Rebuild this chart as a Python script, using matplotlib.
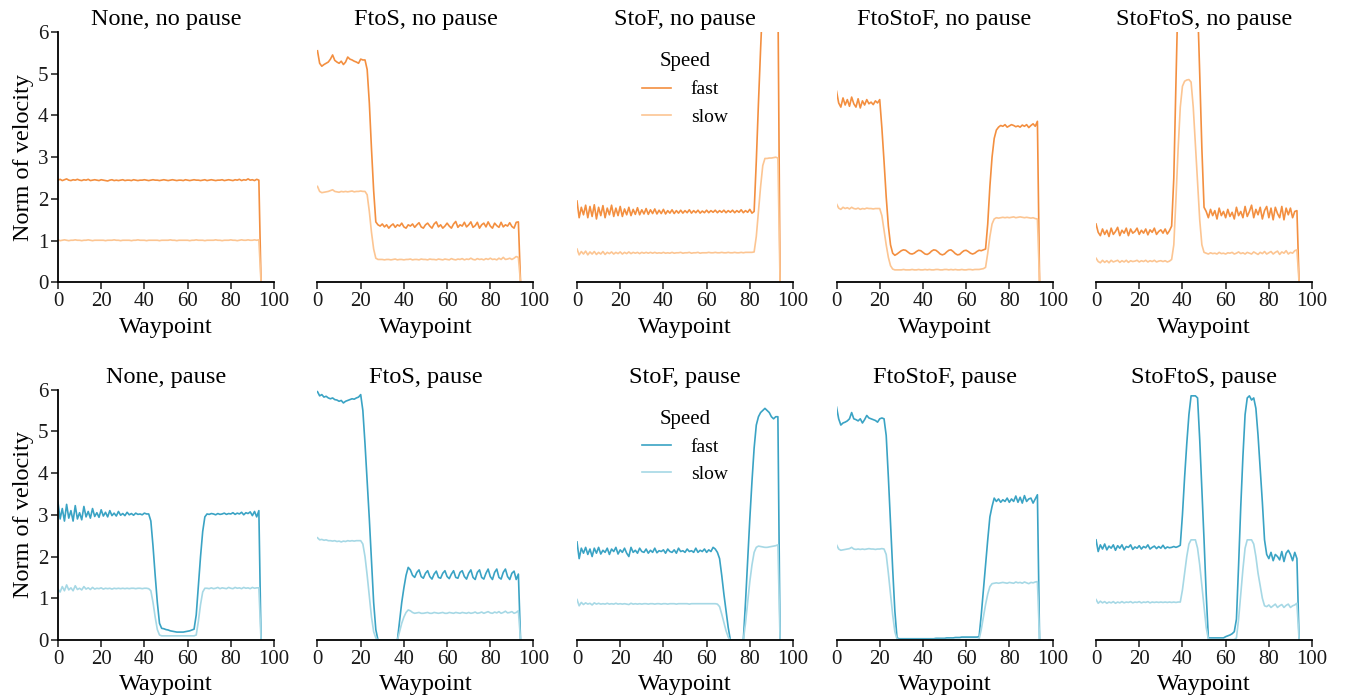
import matplotlib
matplotlib.use("Agg")
import matplotlib.pyplot as plt
import numpy as np

plt.rcParams['font.family'] = ['Liberation Serif', 'DejaVu Serif']

waypoints = list(range(95))
conditions = ["None", "FtoS", "StoF", "FtoStoF", "StoFtoS"]
pause_labels = ["no pause", "pause"]
speeds = ["fast", "slow"]

# ---------------- no pause ----------------
none_nopause_fast = [
    2.45,2.47,2.44,2.46,2.48,2.45,2.44,2.46,2.45,2.47,
    2.45,2.44,2.46,2.45,2.47,2.44,2.45,2.46,2.45,2.44,
    2.46,2.45,2.44,2.43,2.45,2.46,2.44,2.45,2.44,2.45,
    2.46,2.44,2.45,2.45,2.44,2.46,2.45,2.44,2.45,2.45,
    2.46,2.45,2.44,2.45,2.46,2.45,2.45,2.44,2.45,2.46,
    2.45,2.44,2.45,2.46,2.45,2.44,2.45,2.45,2.44,2.46,
    2.45,2.44,2.45,2.46,2.45,2.45,2.44,2.45,2.46,2.44,
    2.45,2.46,2.45,2.44,2.45,2.45,2.46,2.44,2.45,2.46,
    2.45,2.44,2.46,2.45,2.47,2.44,2.46,2.45,2.48,2.45,
    2.46,2.44,2.47,2.45,0.00]
none_nopause_slow = [
    1.02,1.00,1.01,1.02,1.01,1.00,1.01,1.01,1.02,1.01,
    1.01,1.00,1.01,1.01,1.02,1.01,1.00,1.01,1.01,1.01,
    1.01,1.01,1.00,1.01,1.01,1.01,1.02,1.01,1.01,1.00,
    1.01,1.01,1.01,1.01,1.00,1.01,1.01,1.02,1.01,1.01,
    1.01,1.00,1.01,1.01,1.01,1.01,1.01,1.00,1.01,1.01,
    1.01,1.01,1.02,1.01,1.01,1.00,1.01,1.01,1.01,1.01,
    1.01,1.00,1.01,1.01,1.02,1.01,1.01,1.01,1.00,1.01,
    1.01,1.01,1.01,1.02,1.01,1.01,1.00,1.01,1.01,1.01,
    1.02,1.01,1.01,1.00,1.01,1.02,1.01,1.01,1.02,1.01,
    1.01,1.02,1.01,1.02,0.00]

ftos_nopause_fast = [
    5.55,5.25,5.18,5.22,5.25,5.28,5.35,5.45,5.32,5.28,
    5.25,5.30,5.22,5.28,5.40,5.35,5.33,5.30,5.28,5.25,
    5.35,5.33,5.33,5.10,4.30,3.20,2.20,1.45,1.38,1.35,
    1.40,1.33,1.38,1.30,1.36,1.40,1.32,1.38,1.35,1.42,
    1.33,1.30,1.38,1.35,1.40,1.32,1.38,1.43,1.33,1.30,
    1.38,1.42,1.35,1.30,1.40,1.45,1.33,1.38,1.30,1.35,
    1.42,1.35,1.30,1.40,1.46,1.32,1.38,1.35,1.44,1.33,
    1.38,1.45,1.32,1.36,1.44,1.30,1.38,1.42,1.33,1.45,
    1.35,1.30,1.42,1.36,1.32,1.44,1.33,1.38,1.35,1.43,
    1.34,1.30,1.44,1.45,0.00]
ftos_nopause_slow = [
    2.30,2.18,2.15,2.16,2.17,2.18,2.20,2.22,2.18,2.17,
    2.16,2.18,2.17,2.18,2.17,2.18,2.19,2.17,2.18,2.18,
    2.19,2.18,2.18,2.10,1.70,1.20,0.80,0.58,0.55,0.55,
    0.55,0.54,0.55,0.55,0.54,0.55,0.56,0.54,0.55,0.55,
    0.54,0.55,0.55,0.56,0.54,0.55,0.55,0.54,0.56,0.55,
    0.55,0.54,0.56,0.55,0.55,0.54,0.56,0.55,0.54,0.56,
    0.55,0.54,0.57,0.55,0.54,0.56,0.55,0.57,0.54,0.56,
    0.55,0.58,0.55,0.54,0.57,0.55,0.56,0.54,0.57,0.55,
    0.58,0.55,0.56,0.54,0.58,0.55,0.60,0.55,0.56,0.58,
    0.55,0.58,0.62,0.60,0.00]

stof_nopause_fast = [
    1.95,1.55,1.80,1.62,1.85,1.55,1.82,1.58,1.86,1.52,
    1.80,1.60,1.84,1.55,1.78,1.62,1.85,1.58,1.78,1.60,
    1.82,1.58,1.76,1.62,1.80,1.60,1.75,1.63,1.79,1.62,
    1.74,1.64,1.77,1.63,1.74,1.65,1.76,1.64,1.73,1.65,
    1.75,1.64,1.72,1.66,1.74,1.65,1.72,1.66,1.73,1.66,
    1.72,1.67,1.74,1.66,1.72,1.67,1.73,1.66,1.71,1.67,
    1.73,1.67,1.72,1.68,1.73,1.67,1.72,1.68,1.73,1.67,
    1.72,1.68,1.73,1.67,1.72,1.68,1.74,1.67,1.72,1.68,
    1.75,1.66,1.70,2.90,4.30,5.60,6.80,7.00,7.00,7.00,
    7.00,7.00,7.00,7.00,0.00]
stof_nopause_slow = [
    0.80,0.66,0.74,0.68,0.75,0.66,0.73,0.68,0.74,0.67,
    0.72,0.68,0.74,0.67,0.72,0.69,0.73,0.68,0.72,0.69,
    0.73,0.68,0.72,0.69,0.73,0.69,0.72,0.70,0.72,0.69,
    0.72,0.70,0.72,0.70,0.72,0.70,0.72,0.70,0.71,0.70,
    0.72,0.70,0.71,0.70,0.72,0.70,0.71,0.71,0.72,0.70,
    0.71,0.71,0.72,0.70,0.71,0.71,0.72,0.70,0.71,0.71,
    0.71,0.72,0.71,0.71,0.72,0.71,0.71,0.72,0.71,0.71,
    0.72,0.71,0.71,0.72,0.71,0.71,0.72,0.71,0.72,0.72,
    0.72,0.72,0.73,1.10,1.70,2.30,2.80,2.97,2.97,2.98,
    2.98,2.99,3.00,2.98,0.00]

ftostof_nopause_fast = [
    4.58,4.30,4.20,4.42,4.25,4.38,4.22,4.44,4.28,4.20,
    4.40,4.18,4.35,4.25,4.38,4.28,4.32,4.26,4.35,4.30,
    4.38,3.70,2.90,2.05,1.35,0.90,0.70,0.65,0.68,0.72,
    0.76,0.78,0.77,0.73,0.69,0.68,0.70,0.74,0.77,0.76,
    0.72,0.68,0.67,0.70,0.75,0.78,0.77,0.73,0.68,0.66,
    0.68,0.73,0.77,0.78,0.74,0.69,0.66,0.67,0.72,0.76,
    0.77,0.74,0.70,0.68,0.70,0.74,0.77,0.76,0.78,0.80,
    1.40,2.30,3.00,3.45,3.65,3.72,3.76,3.74,3.78,3.72,
    3.75,3.78,3.76,3.73,3.75,3.72,3.77,3.74,3.78,3.71,
    3.76,3.80,3.74,3.86,0.00]
ftostof_nopause_slow = [
    1.88,1.78,1.75,1.80,1.77,1.79,1.76,1.80,1.77,1.76,
    1.78,1.75,1.77,1.76,1.78,1.77,1.77,1.76,1.77,1.77,
    1.77,1.60,1.25,0.90,0.60,0.40,0.32,0.30,0.30,0.30,
    0.30,0.31,0.30,0.30,0.30,0.31,0.30,0.30,0.31,0.30,
    0.30,0.31,0.30,0.31,0.30,0.30,0.31,0.31,0.30,0.30,
    0.31,0.31,0.30,0.31,0.30,0.31,0.30,0.30,0.31,0.30,
    0.30,0.31,0.31,0.30,0.31,0.31,0.31,0.32,0.33,0.36,
    0.70,1.10,1.40,1.52,1.55,1.54,1.55,1.56,1.55,1.56,
    1.55,1.56,1.57,1.55,1.56,1.57,1.56,1.55,1.56,1.55,
    1.54,1.55,1.53,1.52,0.00]

stoftos_nopause_fast = [
    1.40,1.20,1.12,1.28,1.15,1.25,1.10,1.30,1.15,1.22,
    1.32,1.12,1.25,1.18,1.30,1.12,1.28,1.18,1.22,1.30,
    1.15,1.25,1.18,1.28,1.14,1.26,1.20,1.30,1.15,1.22,
    1.26,1.18,1.28,1.16,1.24,1.35,2.50,4.80,7.00,7.50,
    7.50,7.50,7.50,7.50,7.50,7.50,7.50,6.70,5.00,3.20,
    1.80,1.70,1.55,1.75,1.60,1.72,1.52,1.78,1.60,1.70,
    1.55,1.75,1.58,1.68,1.52,1.80,1.60,1.70,1.55,1.82,
    1.58,1.70,1.85,1.55,1.75,1.62,1.80,1.52,1.72,1.82,
    1.55,1.78,1.50,1.80,1.65,1.55,1.82,1.50,1.78,1.62,
    1.78,1.55,1.70,1.72,0.00]
stoftos_nopause_slow = [
    0.58,0.50,0.47,0.53,0.48,0.52,0.47,0.53,0.49,0.51,
    0.53,0.48,0.52,0.49,0.53,0.48,0.52,0.50,0.51,0.53,
    0.49,0.52,0.50,0.53,0.49,0.52,0.50,0.53,0.49,0.51,
    0.52,0.50,0.52,0.49,0.51,0.55,0.90,2.00,3.20,4.20,
    4.70,4.82,4.85,4.86,4.80,4.20,3.30,2.40,1.50,0.90,
    0.72,0.70,0.68,0.71,0.69,0.70,0.68,0.72,0.69,0.70,
    0.68,0.71,0.70,0.72,0.68,0.70,0.73,0.69,0.71,0.68,
    0.72,0.70,0.68,0.73,0.70,0.67,0.72,0.69,0.74,0.68,
    0.71,0.74,0.68,0.72,0.75,0.67,0.73,0.70,0.76,0.68,
    0.72,0.70,0.76,0.78,0.00]

# ---------------- pause ----------------
none_pause_fast = [
    3.30,2.90,3.15,2.85,3.25,2.92,3.10,2.85,3.22,2.90,
    3.05,2.88,3.20,2.95,3.08,2.92,3.15,2.96,3.05,2.94,
    3.12,2.97,3.06,2.95,3.10,2.98,3.04,2.97,3.08,2.99,
    3.03,2.98,3.06,3.00,3.03,2.99,3.04,3.01,3.02,3.00,
    3.04,3.02,3.02,2.85,2.25,1.55,0.90,0.40,0.28,0.27,
    0.25,0.24,0.22,0.21,0.20,0.19,0.19,0.19,0.19,0.20,
    0.21,0.22,0.24,0.26,0.60,1.30,2.00,2.60,2.95,3.02,
    3.01,3.03,3.02,3.00,3.03,3.01,3.02,3.04,3.01,3.03,
    3.02,3.05,3.01,3.04,3.02,3.06,3.00,3.05,3.03,3.07,
    2.98,3.08,2.95,3.10,0.00]
none_pause_slow = [
    1.22,1.15,1.28,1.18,1.32,1.20,1.25,1.18,1.30,1.21,
    1.24,1.20,1.28,1.22,1.25,1.21,1.26,1.22,1.24,1.23,
    1.25,1.22,1.24,1.23,1.24,1.22,1.24,1.23,1.24,1.23,
    1.24,1.23,1.24,1.23,1.24,1.24,1.23,1.24,1.24,1.23,
    1.24,1.24,1.23,1.18,0.90,0.55,0.25,0.12,0.10,0.10,
    0.10,0.10,0.10,0.10,0.10,0.10,0.10,0.10,0.10,0.10,
    0.10,0.10,0.10,0.10,0.12,0.45,0.85,1.15,1.24,1.24,
    1.23,1.25,1.23,1.24,1.26,1.23,1.25,1.24,1.23,1.26,
    1.24,1.23,1.26,1.24,1.25,1.23,1.26,1.24,1.25,1.23,
    1.26,1.24,1.25,1.25,0.00]

ftos_pause_fast = [
    5.95,5.85,5.88,5.82,5.84,5.80,5.78,5.80,5.76,5.75,
    5.72,5.74,5.68,5.72,5.74,5.76,5.78,5.77,5.80,5.82,
    5.88,5.50,4.70,3.80,2.90,1.90,0.90,0.25,0.00,0.00,
    0.00,0.00,0.00,0.00,0.00,0.00,0.00,0.00,0.45,0.90,
    1.25,1.55,1.74,1.68,1.55,1.50,1.62,1.68,1.52,1.48,
    1.60,1.66,1.52,1.46,1.58,1.65,1.50,1.48,1.60,1.66,
    1.52,1.47,1.58,1.66,1.50,1.48,1.62,1.66,1.52,1.46,
    1.60,1.68,1.50,1.45,1.62,1.68,1.50,1.46,1.60,1.70,
    1.52,1.45,1.62,1.70,1.50,1.46,1.62,1.70,1.52,1.45,
    1.60,1.65,1.45,1.58,0.00]
ftos_pause_slow = [
    2.45,2.40,2.41,2.39,2.40,2.38,2.38,2.37,2.38,2.36,
    2.37,2.35,2.37,2.36,2.38,2.37,2.38,2.37,2.38,2.38,
    2.38,2.30,2.00,1.55,1.05,0.55,0.20,0.05,0.00,0.00,
    0.00,0.00,0.00,0.00,0.00,0.00,0.00,0.00,0.20,0.40,
    0.55,0.66,0.72,0.70,0.66,0.64,0.65,0.66,0.64,0.64,
    0.65,0.66,0.64,0.64,0.66,0.65,0.64,0.65,0.66,0.64,
    0.64,0.66,0.65,0.64,0.66,0.65,0.64,0.66,0.65,0.64,
    0.66,0.64,0.65,0.67,0.64,0.65,0.67,0.64,0.66,0.68,
    0.65,0.64,0.67,0.65,0.68,0.64,0.66,0.69,0.65,0.66,
    0.68,0.64,0.66,0.70,0.00]

stof_pause_fast = [
    2.35,1.95,2.20,2.08,2.22,2.05,2.18,2.00,2.20,2.08,
    2.22,2.06,2.15,2.10,2.20,2.05,2.18,2.12,2.22,2.06,
    2.16,2.10,2.20,2.08,2.00,2.22,2.10,2.15,2.08,2.20,
    2.12,2.10,2.18,2.08,2.15,2.10,2.20,2.09,2.14,2.12,
    2.16,2.08,2.18,2.12,2.10,2.16,2.08,2.20,2.12,2.14,
    2.10,2.18,2.12,2.14,2.10,2.20,2.10,2.15,2.12,2.18,
    2.10,2.16,2.12,2.22,2.18,2.10,1.95,1.55,1.10,0.70,
    0.30,0.00,0.00,0.00,0.00,0.00,0.00,0.00,0.90,1.90,
    2.90,3.80,4.60,5.15,5.35,5.45,5.50,5.55,5.50,5.45,
    5.35,5.30,5.35,5.35,0.00]
stof_pause_slow = [
    0.97,0.82,0.90,0.85,0.89,0.86,0.88,0.84,0.89,0.86,
    0.88,0.86,0.87,0.86,0.88,0.86,0.87,0.86,0.88,0.86,
    0.87,0.86,0.87,0.86,0.85,0.88,0.86,0.87,0.86,0.87,
    0.86,0.87,0.87,0.86,0.87,0.87,0.86,0.87,0.87,0.86,
    0.87,0.87,0.86,0.87,0.87,0.87,0.86,0.87,0.87,0.87,
    0.87,0.87,0.86,0.87,0.87,0.87,0.87,0.87,0.87,0.87,
    0.87,0.87,0.87,0.87,0.87,0.86,0.80,0.62,0.42,0.22,
    0.07,0.00,0.00,0.00,0.00,0.00,0.00,0.00,0.40,0.90,
    1.40,1.80,2.10,2.22,2.25,2.24,2.23,2.22,2.22,2.23,
    2.24,2.25,2.26,2.28,0.00]

ftostof_pause_fast = [
    5.58,5.30,5.15,5.20,5.22,5.25,5.30,5.45,5.30,5.28,
    5.25,5.30,5.20,5.28,5.38,5.32,5.30,5.28,5.26,5.22,
    5.30,5.32,5.30,4.90,3.90,2.80,1.70,0.70,0.05,0.03,
    0.03,0.03,0.03,0.03,0.03,0.03,0.03,0.03,0.03,0.03,
    0.03,0.03,0.03,0.03,0.03,0.03,0.04,0.04,0.04,0.04,
    0.04,0.05,0.05,0.05,0.05,0.06,0.06,0.06,0.07,0.07,
    0.07,0.07,0.07,0.07,0.07,0.07,0.08,0.60,1.20,1.80,
    2.40,2.95,3.20,3.40,3.32,3.38,3.30,3.36,3.32,3.40,
    3.30,3.38,3.32,3.45,3.30,3.42,3.28,3.46,3.32,3.38,
    3.40,3.28,3.38,3.48,0.00]
ftostof_pause_slow = [
    2.28,2.18,2.15,2.16,2.17,2.18,2.19,2.22,2.18,2.17,
    2.18,2.17,2.18,2.17,2.18,2.19,2.18,2.18,2.17,2.18,
    2.18,2.19,2.18,2.05,1.60,1.10,0.60,0.20,0.02,0.01,
    0.01,0.01,0.01,0.01,0.01,0.01,0.01,0.01,0.01,0.01,
    0.01,0.01,0.01,0.01,0.01,0.01,0.01,0.01,0.01,0.01,
    0.01,0.01,0.01,0.01,0.01,0.01,0.01,0.01,0.01,0.01,
    0.01,0.01,0.01,0.01,0.01,0.01,0.02,0.25,0.55,0.85,
    1.10,1.28,1.35,1.36,1.37,1.36,1.37,1.38,1.37,1.36,
    1.38,1.37,1.36,1.39,1.37,1.38,1.36,1.39,1.37,1.35,
    1.38,1.37,1.39,1.40,0.00]

stoftos_pause_fast = [
    2.40,2.12,2.28,2.18,2.30,2.16,2.25,2.20,2.28,2.15,
    2.26,2.20,2.28,2.16,2.24,2.22,2.28,2.17,2.23,2.20,
    2.26,2.18,2.24,2.21,2.28,2.18,2.22,2.25,2.19,2.24,
    2.20,2.27,2.19,2.23,2.21,2.22,2.24,2.22,2.24,2.27,
    3.00,3.90,4.70,5.40,5.85,5.85,5.85,5.80,4.80,3.60,
    2.40,1.10,0.05,0.05,0.05,0.05,0.05,0.05,0.05,0.05,
    0.08,0.10,0.12,0.15,0.20,0.50,1.80,3.20,4.40,5.40,
    5.80,5.85,5.75,5.80,5.55,4.90,4.10,3.30,2.40,2.05,
    1.95,2.10,1.90,2.05,2.00,1.92,2.12,1.88,2.08,2.15,
    2.05,1.90,2.10,1.95,0.00]
stoftos_pause_slow = [
    0.97,0.88,0.93,0.89,0.92,0.88,0.91,0.89,0.92,0.88,
    0.91,0.89,0.92,0.89,0.91,0.90,0.92,0.89,0.91,0.90,
    0.92,0.89,0.91,0.90,0.92,0.89,0.91,0.90,0.91,0.90,
    0.91,0.90,0.91,0.90,0.91,0.90,0.91,0.90,0.91,0.91,
    1.20,1.60,2.00,2.30,2.40,2.40,2.40,2.20,1.80,1.30,
    0.80,0.30,0.02,0.01,0.01,0.01,0.01,0.01,0.01,0.01,
    0.01,0.01,0.01,0.01,0.01,0.05,0.50,1.10,1.70,2.20,
    2.40,2.40,2.40,2.30,2.00,1.60,1.30,1.00,0.82,0.80,
    0.84,0.78,0.82,0.86,0.78,0.82,0.85,0.78,0.83,0.86,
    0.78,0.82,0.84,0.88,0.00]

series = {
    ("no pause", "None"): (none_nopause_fast, none_nopause_slow),
    ("no pause", "FtoS"): (ftos_nopause_fast, ftos_nopause_slow),
    ("no pause", "StoF"): (stof_nopause_fast, stof_nopause_slow),
    ("no pause", "FtoStoF"): (ftostof_nopause_fast, ftostof_nopause_slow),
    ("no pause", "StoFtoS"): (stoftos_nopause_fast, stoftos_nopause_slow),
    ("pause", "None"): (none_pause_fast, none_pause_slow),
    ("pause", "FtoS"): (ftos_pause_fast, ftos_pause_slow),
    ("pause", "StoF"): (stof_pause_fast, stof_pause_slow),
    ("pause", "FtoStoF"): (ftostof_pause_fast, ftostof_pause_slow),
    ("pause", "StoFtoS"): (stoftos_pause_fast, stoftos_pause_slow),
}

row_colors = {
    "no pause": ("#f38f40", "#fcc592"),
    "pause": ("#3aa3c4", "#a6d8e5"),
}

fig, axes = plt.subplots(2, 5, figsize=(13.45, 7.0), dpi=100)
fig.subplots_adjust(left=0.0431, right=0.9755, top=0.9543, bottom=0.0857,
                    wspace=0.2014, hspace=0.428)

for r, pl in enumerate(pause_labels):
    for c, cond in enumerate(conditions):
        ax = axes[r, c]
        fast, slow = series[(pl, cond)]
        cf, cs = row_colors[pl]
        ax.plot(waypoints, fast, color=cf, lw=1.2, label="fast")
        ax.plot(waypoints, slow, color=cs, lw=1.2, label="slow")
        ax.set_xlim(0, 100)
        ax.set_ylim(0, 6)
        ax.set_xticks([0, 20, 40, 60, 80, 100])
        ax.set_yticks([0, 1, 2, 3, 4, 5, 6])
        ax.set_title(f"{cond}, {pl}", fontsize=17.5, pad=5)
        ax.set_xlabel("Waypoint", fontsize=17.5, labelpad=4)
        ax.spines['top'].set_visible(False)
        ax.spines['right'].set_visible(False)
        ax.spines['bottom'].set_linewidth(1.3)
        ax.spines['left'].set_linewidth(1.3)
        ax.tick_params(axis='both', direction='out', length=5, width=1.1,
                       labelsize=15, pad=2, colors='#1a1a1a')
        if c == 0:
            ax.set_ylabel("Norm of velocity", fontsize=17.5, labelpad=3)
        else:
            ax.spines['left'].set_visible(False)
            ax.tick_params(axis='y', left=False, labelleft=False)
        if c == 2:
            ax.legend(title="Speed", loc="upper center",
                      bbox_to_anchor=(0.5, 0.99), frameon=False,
                      fontsize=14, title_fontsize=15,
                      handlelength=1.5, labelspacing=0.5,
                      handletextpad=1.0)

fig.savefig("out.png", dpi=100)
